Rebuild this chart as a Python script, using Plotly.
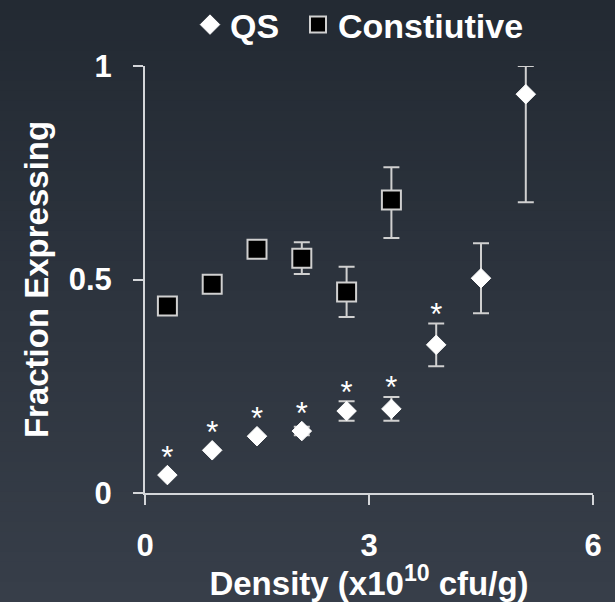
import plotly.graph_objects as go

# Quorum-sensing (QS) reporter vs constitutive reporter, fraction of cells expressing
qs_density = [0.3, 0.9, 1.5, 2.1, 2.7, 3.3, 3.9, 4.5, 5.1]
qs_fraction = [0.042, 0.100, 0.133, 0.145, 0.192, 0.197, 0.347, 0.503, 0.934]
qs_err_up = [0.0, 0.0, 0.0, 0.010, 0.023, 0.028, 0.050, 0.082, 0.066]
qs_err_down = [0.0, 0.0, 0.0, 0.010, 0.023, 0.028, 0.050, 0.082, 0.253]
qs_significant = [True, True, True, True, True, True, True, False, False]

const_density = [0.3, 0.9, 1.5, 2.1, 2.7, 3.3]
const_fraction = [0.438, 0.489, 0.571, 0.550, 0.471, 0.686]
const_err_up = [0.0, 0.0, 0.0, 0.037, 0.059, 0.077]
const_err_down = [0.0, 0.0, 0.0, 0.037, 0.059, 0.089]

x_ticks = [0, 3, 6]
y_ticks = [0, 0.5, 1]
y_tick_text = ["0", "0.5", "1"]

FONT = "Liberation Sans, Arial, sans-serif"
WHITE = "#ffffff"
AXIS = "#d4d6d9"
ERR = "#d0d0d0"

fig = go.Figure()

fig.add_trace(go.Scatter(
    x=qs_density, y=qs_fraction, mode="markers", name="QS", legendwidth=63,
    marker=dict(symbol="diamond", size=15, color=WHITE, line=dict(color=WHITE, width=1)),
    error_y=dict(type="data", symmetric=False, array=qs_err_up, arrayminus=qs_err_down,
                 color=ERR, thickness=2, width=8),
    cliponaxis=False,
))

fig.add_trace(go.Scatter(
    x=const_density, y=const_fraction, mode="markers", name="Constiutive",
    marker=dict(symbol="square", size=19, color="#000000", line=dict(color=ERR, width=2)),
    error_y=dict(type="data", symmetric=False, array=const_err_up, arrayminus=const_err_down,
                 color=ERR, thickness=2, width=8),
    cliponaxis=False,
))

# significance stars above the QS points
star_x, star_y = [], []
for xv, yv, eu, sig in zip(qs_density, qs_fraction, qs_err_up, qs_significant):
    if sig:
        star_x.append(xv)
        star_y.append(max(yv + 0.035, yv + eu + 0.015))
fig.add_trace(go.Scatter(
    x=star_x, y=star_y, mode="text", text=["*"] * len(star_x),
    textposition="middle center",
    textfont=dict(family=FONT, size=31, color=WHITE, weight="normal"),
    showlegend=False, hoverinfo="skip", cliponaxis=False,
))

# vertical gradient background
W, H = 615, 602
L, R, T, B = 145, 22, 66, 109
plot_h = H - T - B
n_bands = 60
top_rgb = (0x23, 0x2a, 0x33)
bot_rgb = (0x37, 0x3e, 0x49)
shapes = []
for i in range(n_bands):
    f = i / (n_bands - 1)
    c = tuple(round(a + (b - a) * f) for a, b in zip(top_rgb, bot_rgb))
    py0 = H * i / n_bands
    py1 = H * (i + 1) / n_bands + 1
    shapes.append(dict(
        type="rect", xref="paper", yref="paper", layer="below",
        x0=-L / (W - L - R) - 0.05, x1=1 + R / (W - L - R) + 0.05,
        y0=(H - B - py1) / plot_h, y1=(H - B - py0) / plot_h,
        fillcolor="rgb(%d,%d,%d)" % c, line=dict(width=0),
    ))

fig.update_layout(
    width=W, height=H,
    margin=dict(l=L, r=R, t=T, b=B, autoexpand=False),
    paper_bgcolor="rgb(%d,%d,%d)" % top_rgb,
    plot_bgcolor="rgba(0,0,0,0)",
    shapes=shapes,
    font=dict(family=FONT, color=WHITE, weight="bold"),
    showlegend=True,
    legend=dict(
        orientation="h", x=190 / (W - L - R) - L / (W - L - R), xanchor="left",
        y=1 + (T - 25) / plot_h, yanchor="middle",
        bgcolor="rgba(0,0,0,0)", font=dict(family=FONT, size=34, color=WHITE, weight="bold"),
        itemclick=False, tracegroupgap=0,
    ),
    xaxis=dict(
        range=[0, 6], tickvals=x_ticks, showgrid=False, zeroline=False,
        showline=True, linecolor=AXIS, linewidth=2,
        ticks="outside", ticklen=10, tickwidth=2, tickcolor=AXIS,
        tickfont=dict(family=FONT, size=31, color=WHITE, weight="bold"),
        ticklabelstandoff=14,
        title=dict(text="Density (x10<sup>10</sup> cfu/g)", standoff=0,
                   font=dict(family=FONT, size=33, color=WHITE, weight="bold")),
    ),
    yaxis=dict(
        range=[0, 1], tickvals=y_ticks, ticktext=y_tick_text, showgrid=False, zeroline=False,
        showline=True, linecolor=AXIS, linewidth=2,
        ticks="outside", ticklen=10, tickwidth=2, tickcolor=AXIS,
        tickfont=dict(family=FONT, size=31, color=WHITE, weight="bold"),
        ticklabelstandoff=15,
        title=dict(text="Fraction Expressing", standoff=10,
                   font=dict(family=FONT, size=33, color=WHITE, weight="bold")),
    ),
)

fig.write_html("out.html")
